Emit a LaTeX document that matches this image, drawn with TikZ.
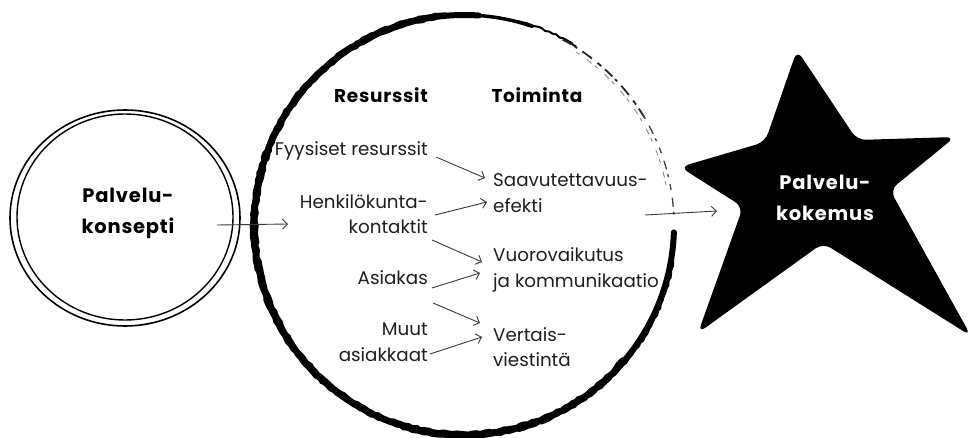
\documentclass[tikz,border=0pt]{standalone}
\usepackage{fontspec}
\setmainfont{Poppins}
\newfontfamily\headfont[LetterSpace=4]{Poppins}
\usetikzlibrary{arrows.meta,decorations.pathmorphing}
\definecolor{ink}{HTML}{1E1E1E}
\definecolor{arrowc}{HTML}{3A3A3A}
\tikzset{
  body/.style={font={\fontsize{18.3}{25.5}\selectfont}, text=ink, inner sep=0pt},
  head/.style={font={\headfont\bfseries\fontsize{18.5}{30}\selectfont}, text=black, inner sep=0pt, align=center},
  big/.style={font={\headfont\bfseries\fontsize{19.5}{31}\selectfont}, inner sep=0pt, align=center},
  conn/.style={draw=arrowc, line width=0.9pt, -{Straight Barb[length=5pt,width=10pt]}},
  brush/.style={line width=#1, draw=black, line cap=round},
  rough/.style={decorate, decoration={random steps, segment length=4pt, amplitude=0.8pt}},
}
\begin{document}
\begin{tikzpicture}[x=1pt,y=-1pt]
\useasboundingbox (0,0) rectangle (971,438);
% ---------- left double circle ----------
\draw[line width=1.6pt, black] (125,218) ellipse [x radius=115, y radius=108];
\draw[line width=1.4pt, black] (125,217) ellipse [x radius=108, y radius=103];
\node[big, text=black] (pk) at (128,213) {Palvelu-\\konsepti};
% ---------- big brush circle ----------
\coordinate (bc) at (464,225);
\draw[brush=6pt] (bc) ++(2:210) arc[start angle=2, end angle=274, radius=210];
\draw[brush=2pt, rough] (bc) ++(10:212.5) arc[start angle=10, end angle=265, radius=212.5];
\draw[brush=2pt, rough] (bc) ++(40:207) arc[start angle=40, end angle=200, radius=207];
\draw[brush=2pt, rough] (bc) ++(200:207.5) arc[start angle=200, end angle=262, radius=207.5];
\draw[brush=3.5pt] (bc) ++(270:210) arc[start angle=270, end angle=289, radius=210];
\draw[brush=2pt, rough] (bc) ++(285:211) arc[start angle=285, end angle=302, radius=211];
\draw[line width=1.8pt, black!85, dash pattern=on 10pt off 4pt on 3pt off 6pt on 12pt off 7pt on 5pt off 5pt]
  (bc) ++(298:210) arc[start angle=298, end angle=330, radius=210];
\draw[line width=1.3pt, black!75, dash pattern=on 6pt off 8pt on 9pt off 5pt on 3pt off 7pt]
  (bc) ++(328:210) arc[start angle=328, end angle=358, radius=210];
\draw[line width=0.8pt, gray, dash pattern=on 4pt off 9pt on 6pt off 4pt]
  (bc) ++(303:206) arc[start angle=303, end angle=350, radius=206];
% ---------- star ----------
\coordinate (st) at (825,198);
\fill[black, rounded corners=9pt] (797,50) -- (857,140) -- (955,137) -- (890,190)
  -- (971,336) -- (823,243) -- (698,333) -- (743,207)
  -- (680,167) -- (765,142) -- cycle;
\node[big, text=white] (sk) at (825,198) {Palvelu-\\kokemus};
% ---------- headings ----------
\node[head] (res) at (381,95) {Resurssit};
\node[head] (toi) at (537,95) {Toiminta};
% ---------- resources ----------
\node[body, anchor=east] (fyy) at (428,151) {Fyysiset resurssit};
\node[body, anchor=east, align=right] (henk) at (428,214) {Henkilökunta-\\kontaktit};
\node[body, anchor=east] (asi) at (428,278) {Asiakas};
\node[body, anchor=east, align=right] (muut) at (428,342) {Muut\\asiakkaat};
% ---------- activities ----------
\node[body, anchor=west, align=left] (saav) at (493,193) {Saavutettavuus-\\efekti};
\node[body, anchor=west, align=left] (vuoro) at (493,270) {Vuorovaikutus\\ja kommunikaatio};
\node[body, anchor=west, align=left] (vert) at (493,347) {Vertais-\\viestintä};
% ---------- connectors ----------
\draw[conn] ([shift={(8,6)}]fyy.east) -- ([shift={(-8,-15)}]saav.west);
\draw[conn] ([shift={(7,1)}]henk.east) -- ([shift={(-6,9)}]saav.west);
\draw[conn] ([shift={(4,26)}]henk.east) -- ([shift={(-11,-8)}]vuoro.west);
\draw[conn] ([shift={(4,10)}]asi.east) -- ([shift={(-13,3)}]vuoro.west);
\draw[conn] ([shift={(5,25)}]asi.east) -- ([shift={(-13,-24)}]vert.west);
\draw[conn] ([shift={(2,12)}]muut.east) -- ([shift={(-11,-10)}]vert.west);
\draw[conn] ([shift={(89,12)}]pk.center) -- ([shift={(-176,-1)}]bc);
\draw[conn] ([shift={(181,-10)}]bc) -- ([shift={(-108,13)}]st);
\end{tikzpicture}
\end{document}
